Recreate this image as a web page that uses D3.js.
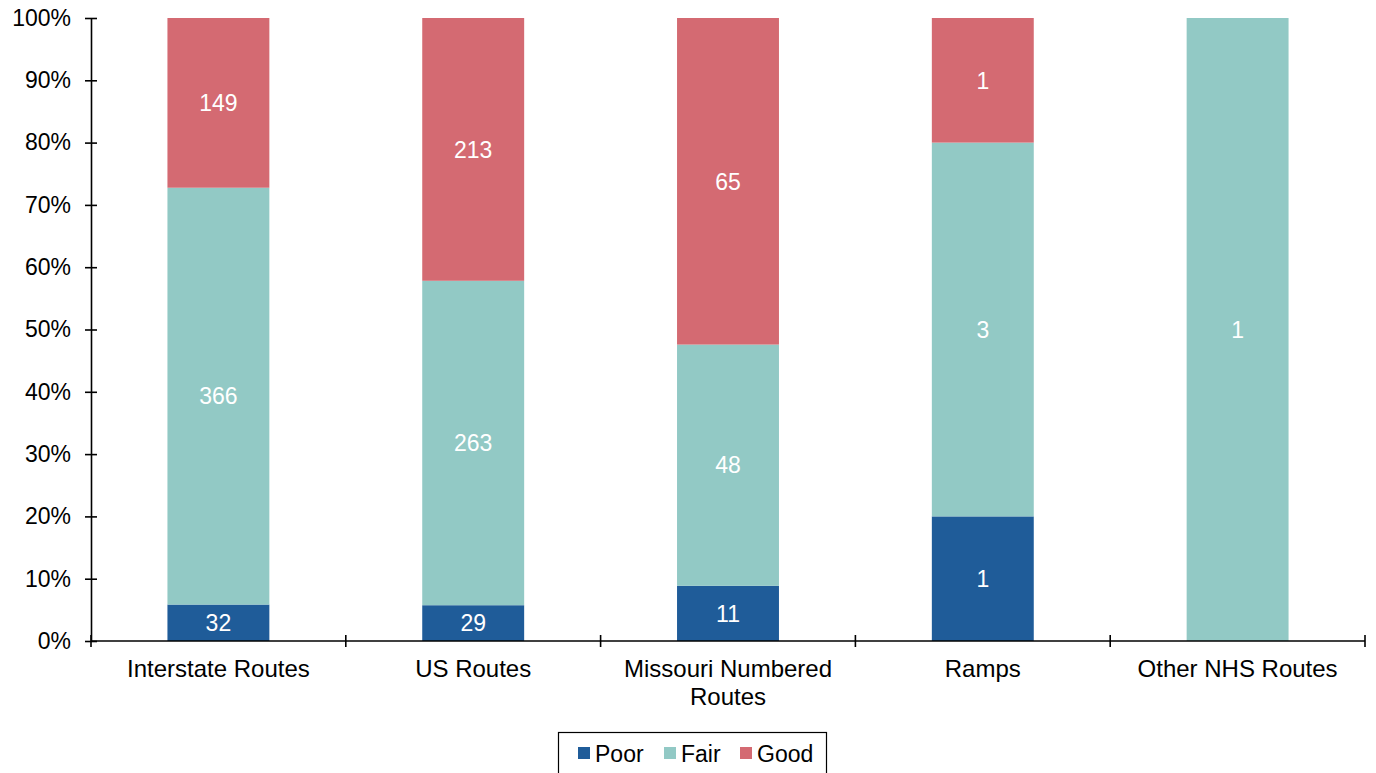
<!DOCTYPE html>
<html><head><meta charset="utf-8">
<script src="https://cdn.jsdelivr.net/npm/d3@7"></script>
<style>body{margin:0;background:#fff}svg{display:block;font-family:"Liberation Sans",Arial,sans-serif}</style>
</head><body>
<svg id="c" width="1376" height="773"></svg>
<script>
const categories = ["Interstate Routes", "US Routes", "Missouri Numbered Routes", "Ramps", "Other NHS Routes"];
const categoryLines = [["Interstate Routes"], ["US Routes"], ["Missouri Numbered", "Routes"], ["Ramps"], ["Other NHS Routes"]];
const seriesNames = ["Poor", "Fair", "Good"];
const poor = [32, 29, 11, 1, 0];
const fair = [366, 263, 48, 3, 1];
const good = [149, 213, 65, 1, 0];
const colors = ["#1F5C99", "#92C9C5", "#D46A72"];
const yTicks = [0, 0.1, 0.2, 0.3, 0.4, 0.5, 0.6, 0.7, 0.8, 0.9, 1.0];

const svg = d3.select("#c");
const m = {l: 91, r: 1365, t: 18, b: 641};
const x = d3.scaleBand().domain(categories).range([m.l, m.r]).paddingInner(0.6).paddingOuter(0.3);
const xb = d3.scaleBand().domain(categories).range([m.l, m.r]);
const y = d3.scaleLinear().domain([0, 1]).range([m.b, m.t]);

const rows = categories.map((c, i) => ({cat: c, Poor: poor[i], Fair: fair[i], Good: good[i], total: poor[i] + fair[i] + good[i]}));
const stack = d3.stack().keys(seriesNames).value((d, k) => d[k] / d.total);
const layers = stack(rows);

const g = svg.append("g");
layers.forEach((layer, li) => {
  const lg = g.append("g");
  lg.selectAll("rect").data(layer).join("rect")
    .attr("x", d => x(d.data.cat)).attr("width", x.bandwidth())
    .attr("y", d => y(d[1])).attr("height", d => y(d[0]) - y(d[1]))
    .attr("fill", colors[li]);
  lg.selectAll("text").data(layer.filter(d => d.data[layer.key] > 0)).join("text")
    .attr("x", d => x(d.data.cat) + x.bandwidth() / 2)
    .attr("y", d => (y(d[0]) + y(d[1])) / 2)
    .attr("dy", "0.36em").attr("text-anchor", "middle")
    .attr("fill", "#fff").attr("font-size", 23)
    .text(d => d.data[layer.key]);
});

// Y axis
const ya = svg.append("g").attr("transform", `translate(${m.l},0)`)
  .call(d3.axisLeft(y).tickValues(yTicks).tickFormat(d3.format(".0%")).tickSize(0).tickPadding(20));
ya.select(".domain").attr("stroke", "#000").attr("stroke-width", 1.6);
ya.selectAll(".tick text").attr("font-size", 23).attr("fill", "#000").attr("font-family", "Liberation Sans, Arial, sans-serif");
ya.selectAll(".tick").append("line").attr("x1", -6).attr("x2", 6).attr("stroke", "#000").attr("stroke-width", 1.6);

// X axis
const xa = svg.append("g").attr("transform", `translate(0,${m.b})`);
xa.append("line").attr("x1", m.l).attr("x2", m.r).attr("stroke", "#000").attr("stroke-width", 1.6);
const bounds = categories.map(c => xb(c)).concat([m.r]);
xa.selectAll("line.t").data(bounds).join("line").attr("class", "t")
  .attr("x1", d => d).attr("x2", d => d).attr("y1", -6).attr("y2", 6)
  .attr("stroke", "#000").attr("stroke-width", 1.6);
categories.forEach((c, i) => {
  const t = xa.append("text").attr("text-anchor", "middle").attr("font-size", 24).attr("fill", "#000")
    .attr("x", x(c) + x.bandwidth() / 2);
  categoryLines[i].forEach((ln, j) => {
    t.append("tspan").attr("x", x(c) + x.bandwidth() / 2).attr("y", 36 + j * 28).text(ln);
  });
});

// Legend
const lgd = svg.append("g");
lgd.append("rect").attr("x", 558.5).attr("y", 732.5).attr("width", 268).attr("height", 50)
  .attr("fill", "#fff").attr("stroke", "#000").attr("stroke-width", 1.2);
const legX = [578, 664, 740];
seriesNames.forEach((s, i) => {
  lgd.append("rect").attr("x", legX[i]).attr("y", 747).attr("width", 12).attr("height", 12).attr("fill", colors[i]);
  lgd.append("text").attr("x", legX[i] + 17).attr("y", 762).attr("font-size", 23).attr("fill", "#000").text(s);
});
</script>
</body></html>
